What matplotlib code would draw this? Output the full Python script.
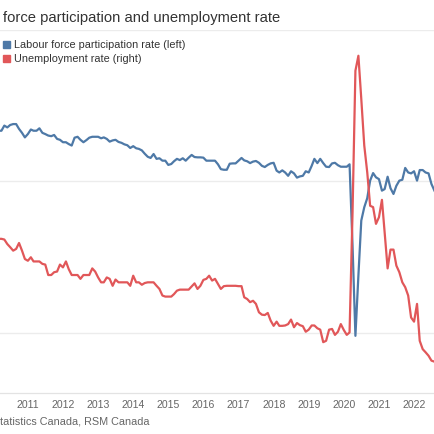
import pandas as pd
import matplotlib
matplotlib.use("Agg")
import matplotlib.pyplot as plt
import matplotlib.dates as mdates
from matplotlib.patches import Rectangle

plt.rcParams['font.family'] = ['Liberation Sans', 'DejaVu Sans']

# monthly, Jan 2010 - Jul 2022 (month-end)
months = pd.date_range('2010-01-31', '2022-07-31', freq='ME')

participation = [
    66.67, 66.67, 66.67, 66.84, 66.78, 66.86, 66.89, 66.89, 66.73, 66.60, 66.45, 66.56,  # 2010
    66.71, 66.67, 66.67, 66.75, 66.60, 66.56, 66.51, 66.49, 66.53, 66.40, 66.37, 66.29,  # 2011
    66.29, 66.23, 66.18, 66.44, 66.47, 66.37, 66.29, 66.36, 66.44, 66.47, 66.47, 66.47,  # 2012
    66.42, 66.45, 66.40, 66.31, 66.35, 66.37, 66.30, 66.27, 66.22, 66.19, 66.10, 66.16,  # 2013
    66.09, 66.07, 66.02, 65.91, 65.81, 65.77, 65.90, 65.74, 65.76, 65.68, 65.68, 65.54,  # 2014
    65.57, 65.66, 65.74, 65.70, 65.76, 65.68, 65.78, 65.87, 65.80, 65.79, 65.79, 65.78,  # 2015
    65.68, 65.68, 65.68, 65.68, 65.56, 65.40, 65.38, 65.38, 65.58, 65.59, 65.59, 65.68,  # 2016
    65.77, 65.69, 65.66, 65.60, 65.65, 65.67, 65.61, 65.51, 65.47, 65.54, 65.59, 65.61,  # 2017
    65.35, 65.29, 65.36, 65.29, 65.18, 65.33, 65.26, 65.12, 65.16, 65.18, 65.33, 65.29,  # 2018
    65.51, 65.74, 65.60, 65.74, 65.60, 65.48, 65.47, 65.59, 65.61, 65.53, 65.48, 65.48,  # 2019
    65.48, 65.56, 62.87, 59.89, 61.88, 63.70, 64.14, 64.44, 65.02, 65.27, 65.13, 65.07,  # 2020
    64.69, 64.74, 65.15, 64.77, 64.58, 64.85, 65.02, 65.05, 65.44, 65.29, 65.26, 65.33,  # 2021
    65.02, 65.37, 65.37, 65.29, 65.26, 64.91, 64.69,                                     # 2022
]

unemployment = [
    8.43, 8.43, 8.43, 8.41, 8.28, 8.19, 8.09, 8.14, 8.31, 8.09, 7.85, 7.80,  # 2010
    7.90, 7.78, 7.78, 7.78, 7.71, 7.69, 7.39, 7.39, 7.47, 7.49, 7.69, 7.61,  # 2011
    7.78, 7.56, 7.39, 7.39, 7.39, 7.28, 7.39, 7.39, 7.39, 7.58, 7.49, 7.32,  # 2012
    7.18, 7.18, 7.32, 7.28, 7.08, 7.26, 7.18, 7.18, 7.18, 7.18, 7.08, 7.37,  # 2013
    7.18, 7.18, 7.11, 7.16, 7.18, 7.18, 7.18, 7.08, 6.99, 6.80, 6.77, 6.77,  # 2014
    6.77, 6.84, 6.94, 6.97, 6.97, 6.97, 6.97, 7.06, 7.15, 6.99, 7.08, 7.25,  # 2015
    7.28, 7.37, 7.23, 7.28, 7.13, 6.99, 7.07, 7.08, 7.08, 7.08, 7.08, 7.07,  # 2016
    7.07, 6.75, 6.70, 6.61, 6.65, 6.56, 6.32, 6.25, 6.24, 6.30, 6.08, 5.93,  # 2017
    6.05, 5.93, 5.93, 5.94, 5.98, 6.11, 5.89, 6.01, 5.95, 5.92, 5.76, 5.82,  # 2018
    5.94, 5.94, 5.86, 5.82, 5.46, 5.50, 5.82, 5.84, 5.67, 5.76, 5.98, 5.81,  # 2019
    5.67, 5.74, 9.19, 13.26, 13.69, 12.45, 11.11, 10.34, 9.38, 9.34, 8.86, 9.05,  # 2020
    9.55, 8.62, 7.58, 8.12, 8.12, 7.66, 7.47, 7.18, 7.04, 6.80, 6.17, 6.05,  # 2021
    6.56, 5.50, 5.26, 5.17, 5.07, 4.93, 4.90,                                # 2022
]

years = list(range(2011, 2023))

blue = '#4e79a7'
red = '#e15759'
grid_col = '#ececec'

fig = plt.figure(figsize=(4.35, 4.35), dpi=100)
ax = fig.add_axes([0.0, 41 / 435, 1.0, 363 / 435])
ax2 = ax.twinx()

ax.plot(months, participation, color=blue, lw=1.6, solid_joinstyle='round')
ax2.plot(months, unemployment, color=red, lw=1.6, solid_joinstyle='round')

ax.set_xlim(pd.Timestamp('2010-03-16'), pd.Timestamp('2022-08-06'))
ax.set_ylim(58, 70)
ax2.set_ylim(4.0, 14.43)

ax.set_yticks([60, 65, 70])
ax.yaxis.grid(True, color=grid_col, lw=1)
ax.set_axisbelow(True)
ax.tick_params(axis='y', length=0, labelleft=False)
ax2.set_yticks([])

ax.set_xticks([pd.Timestamp(f'{y}-01-01') for y in years])
ax.xaxis.set_major_formatter(mdates.DateFormatter('%Y'))
ax.tick_params(axis='x', length=0, pad=4, labelsize=7.6, labelcolor='#666666')

for a in (ax, ax2):
    for s in ('top', 'left', 'right'):
        a.spines[s].set_visible(False)
    a.spines['bottom'].set_color('#e3e3e3')
    a.patch.set_visible(False)

fig.text(3 / 435, 1 - 18 / 435, 'force participation and unemployment rate',
         fontsize=10.6, color='#333333', va='center', ha='left')

legend_items = [('Labour force participation rate (left)', blue, 45.5),
                ('Unemployment rate (right)', red, 59)]
for label, col, ypx in legend_items:
    fig.patches.append(Rectangle((3 / 435, 1 - (ypx + 3.5) / 435), 7 / 435, 7 / 435,
                                 transform=fig.transFigure, color=col))
    fig.text(14 / 435, 1 - ypx / 435, label, fontsize=7.8, color='#333333',
             va='center', ha='left')

fig.text(0.0, 1 - 422 / 435, 'tatistics Canada, RSM Canada', fontsize=7.8,
         color='#666666', va='center', ha='left')

fig.savefig('out.png', dpi=100)
